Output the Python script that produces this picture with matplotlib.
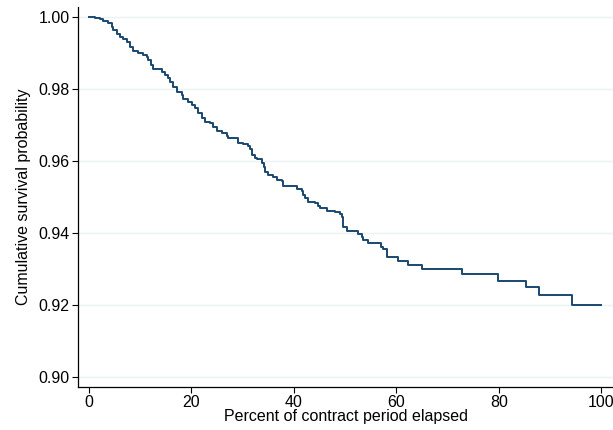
import numpy as np
import matplotlib
matplotlib.use("Agg")
import matplotlib.pyplot as plt

# step points of the survival curve (percent elapsed, survival after drop)
elapsed = [0.0, 1.17, 2.15, 2.79, 3.77, 4.43, 4.74, 5.40, 6.05, 6.69, 7.36, 8.00, 8.64,
           9.62, 10.60, 11.26, 11.57, 12.04, 12.55, 14.19, 14.83, 15.47, 15.80, 16.45,
           17.11, 18.09, 18.40, 19.38, 20.04, 20.68, 21.33, 21.99, 22.63, 23.61, 24.25,
           24.92, 25.89, 26.87, 27.18, 29.13, 30.11, 31.08, 31.41, 31.73, 32.39, 32.72,
           33.70, 34.15, 34.34, 34.99, 35.96, 36.63, 37.60, 37.91, 40.53, 41.50, 41.81,
           42.15, 42.79, 44.10, 44.74, 45.07, 46.38, 48.00, 48.98, 49.31, 49.62, 50.28,
           52.55, 53.21, 53.52, 54.50, 56.92, 57.42, 58.09, 60.35, 62.30, 64.92, 72.8,
           79.8, 85.3, 87.8, 94.2, 100.0]
survival = [1.0000, 0.9997, 0.9994, 0.9990, 0.9983, 0.9973, 0.9964, 0.9953, 0.9944, 0.9939,
            0.9931, 0.9918, 0.9906, 0.9901, 0.9894, 0.9890, 0.9881, 0.9867, 0.9857, 0.9848,
            0.9839, 0.9830, 0.9820, 0.9806, 0.9793, 0.9783, 0.9771, 0.9765, 0.9756, 0.9746,
            0.9733, 0.9719, 0.9709, 0.9705, 0.9695, 0.9684, 0.9679, 0.9669, 0.9664, 0.9651,
            0.9647, 0.9642, 0.9633, 0.9617, 0.9608, 0.9605, 0.9595, 0.9584, 0.9570, 0.9561,
            0.9555, 0.9547, 0.9544, 0.9532, 0.9521, 0.9518, 0.9506, 0.9496, 0.9487, 0.9483,
            0.9475, 0.9469, 0.9462, 0.9459, 0.9453, 0.9445, 0.9416, 0.9406, 0.9396, 0.9388,
            0.9381, 0.9371, 0.9362, 0.9355, 0.9334, 0.9322, 0.9312, 0.9300, 0.9286, 0.9268,
            0.9249, 0.9227, 0.9200, 0.9200]

yticks = [0.90, 0.92, 0.94, 0.96, 0.98, 1.00]
xticks = [0, 20, 40, 60, 80, 100]

plt.rcParams['font.family'] = ['Liberation Sans', 'DejaVu Sans']

fig = plt.figure(figsize=(6.13, 4.30), dpi=100)
ax = fig.add_axes([78 / 613, 43 / 430, (613 - 78) / 613, (387 - 7) / 430])

ax.step(elapsed, survival, where='post', color='#1a476f', lw=1.4)

ax.set_xlim(-2.15, 102.3)
ax.set_ylim(0.89722, 1.0028)
ax.set_xticks(xticks)
ax.set_yticks(yticks)
ax.set_yticklabels([f"{t:.2f}" for t in yticks])
ax.grid(axis='y', color='#eaf2f3', lw=1.0)
ax.set_axisbelow(True)

for s in ['top', 'right']:
    ax.spines[s].set_visible(False)
for s in ['left', 'bottom']:
    ax.spines[s].set_linewidth(0.9)
ax.tick_params(direction='out', length=4, width=0.8, labelsize=11.5, pad=2)

ax.set_xlabel("Percent of contract period elapsed", fontsize=11.5, labelpad=-1)
ax.set_ylabel("Cumulative survival probability", fontsize=11.5, labelpad=5)

fig.savefig("out.png", dpi=100)
